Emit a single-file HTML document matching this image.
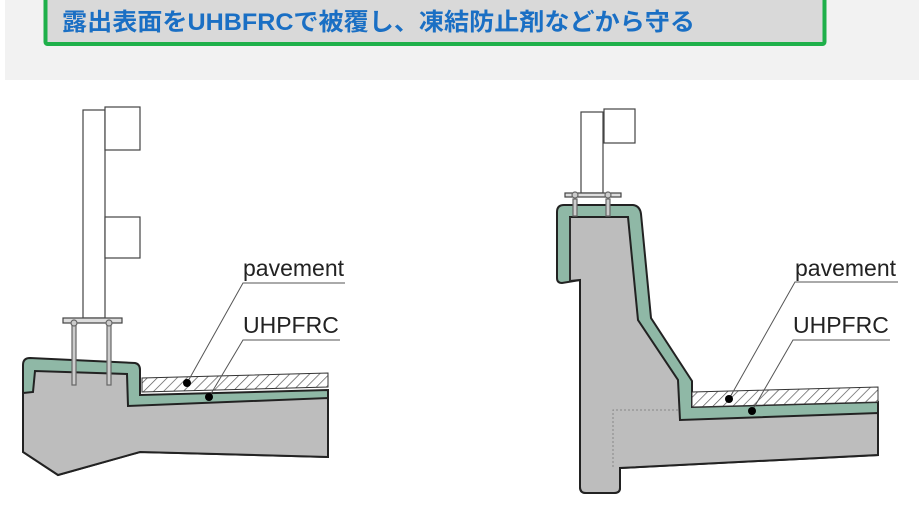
<!DOCTYPE html>
<html><head><meta charset="utf-8"><style>
html,body{margin:0;padding:0;background:#fff;width:919px;height:511px;overflow:hidden}
</style></head><body>
<svg width="919" height="511" viewBox="0 0 919 511" xmlns="http://www.w3.org/2000/svg">
<defs>
<pattern id="h" width="7" height="7" patternUnits="userSpaceOnUse" patternTransform="rotate(45)">
<rect width="7" height="7" fill="#fff"/><line x1="0" y1="0" x2="0" y2="7" stroke="#555" stroke-width="1.4"/>
</pattern>
</defs>
<rect x="5" y="0" width="914" height="80" fill="#f2f2f2"/>
<rect x="45.5" y="-6" width="779" height="50" fill="#d9d9d9" stroke="#1fb04a" stroke-width="4" rx="2"/>
<text x="62" y="30" font-family="Liberation Sans, Noto Sans CJK JP, sans-serif" font-size="24" font-weight="bold" fill="#1a6fc4" textLength="633" lengthAdjust="spacingAndGlyphs">露出表面をUHBFRCで被覆し、凍結防止剤などから守る</text>

<!-- LEFT -->
<g stroke="#444" stroke-width="1.2" fill="#fff">
<rect x="83" y="110" width="22" height="208"/>
<rect x="105" y="107" width="35" height="43"/>
<rect x="105" y="217" width="35" height="41"/>
<rect x="63" y="318" width="59" height="5" fill="#ddd"/>
</g>
<path d="M23,365 Q23,358 30,358 L135,363 Q140,364 140,370 L140,395 L328,390 L328,457 L140,452 L58,475 L23,452 Z" fill="#8fb8a6" stroke="#222" stroke-width="2"/>
<path d="M23,393 L33,392 L35,371 L127,374 L128,406 L328,398 L328,457 L140,452 L58,475 L23,452 Z" fill="#bdbdbd" stroke="#222" stroke-width="2"/>
<path d="M142,378 L328,373 L328,387 L142,392 Z" fill="url(#h)" stroke="#333" stroke-width="1"/>
<g stroke="#666" stroke-width="1.2" fill="#ccc">
<rect x="72" y="325" width="4" height="60"/><rect x="107" y="325" width="4" height="60"/>
<circle cx="74" cy="323" r="3"/><circle cx="109" cy="323" r="3"/>
</g>
<g stroke="#555" stroke-width="1" fill="none">
<polyline points="345,283 243,283 187,383"/>
<polyline points="340,340 243,340 209,397"/>
</g>
<circle cx="187" cy="383" r="4" fill="#000"/><circle cx="209" cy="397" r="4" fill="#000"/>
<g font-family="Liberation Sans, sans-serif" font-size="23" fill="#222">
<text x="243" y="276">pavement</text><text x="243" y="333">UHPFRC</text>
</g>

<!-- RIGHT -->
<g stroke="#444" stroke-width="1.2" fill="#fff">
<rect x="581" y="112" width="22" height="81"/>
<rect x="604" y="109" width="31" height="34"/>
<rect x="565" y="193" width="56" height="4" fill="#ddd"/>
</g>
<path d="M557,212 Q557,205 564,205 L633,205 Q640,206 641,214 L651,318 L692,381 L692,407 L878,402 L878,455 L620,468 L620,488 Q620,493 614,493 L586,493 Q580,493 580,487 L580,280 L562,283 Q557,283 557,278 Z" fill="#8fb8a6" stroke="#222" stroke-width="2"/>
<path d="M570,217 L628,217 L638,320 L678,380 L680,420 L878,413 L878,455 L620,468 L620,488 Q620,493 614,493 L586,493 Q580,493 580,487 L580,280 L570,281 Z" fill="#bdbdbd" stroke="#222" stroke-width="2"/>
<line x1="570" y1="217" x2="570" y2="281" stroke="#333" stroke-width="1.5"/>
<path d="M692,392 L878,387 L878,402 L692,407 Z" fill="url(#h)" stroke="#333" stroke-width="1"/>
<g stroke="#888" stroke-width="1" stroke-dasharray="2,2" fill="none">
<polyline points="678,410 613,410 613,468"/>
</g>
<g stroke="#666" stroke-width="1.2" fill="#ccc">
<rect x="573" y="199" width="4" height="17"/><rect x="606" y="199" width="4" height="17"/>
<circle cx="575" cy="195" r="3"/><circle cx="608" cy="195" r="3"/>
</g>
<g stroke="#555" stroke-width="1" fill="none">
<polyline points="898,282 795,282 729,399"/>
<polyline points="890,340 793,340 752,411"/>
</g>
<circle cx="729" cy="399" r="4" fill="#000"/><circle cx="752" cy="411" r="4" fill="#000"/>
<g font-family="Liberation Sans, sans-serif" font-size="23" fill="#222">
<text x="795" y="276">pavement</text><text x="793" y="333">UHPFRC</text>
</g>
</svg>
</body></html>
